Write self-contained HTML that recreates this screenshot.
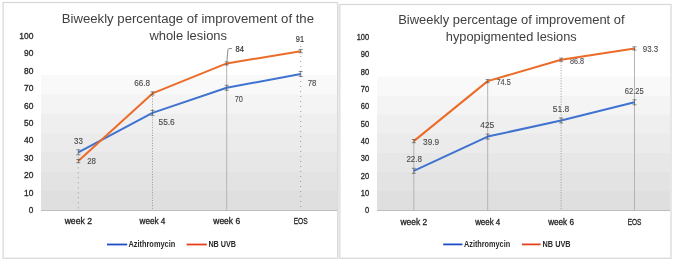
<!DOCTYPE html>
<html><head><meta charset="utf-8"><style>
html,body{margin:0;padding:0;background:#fff;}
svg{display:block;font-family:"Liberation Sans", sans-serif;will-change:transform;}
</style></head><body>
<svg width="676" height="263" viewBox="0 0 676 263">
<rect width="676" height="263" fill="#fff"/>
<rect x="3.1" y="2.5" width="334.5" height="255.8" fill="#fff" stroke="#d9d9d9" stroke-width="1.3"/>
<rect x="41" y="75.00" width="296" height="134.90" fill="#f9f9f9"/>
<rect x="41" y="94.27" width="296" height="115.63" fill="#f4f4f4"/>
<rect x="41" y="113.54" width="296" height="96.36" fill="#efefef"/>
<rect x="41" y="132.81" width="296" height="77.09" fill="#ebebeb"/>
<rect x="41" y="152.09" width="296" height="57.81" fill="#e7e7e7"/>
<rect x="41" y="171.36" width="296" height="38.54" fill="#e3e3e3"/>
<rect x="41" y="190.63" width="296" height="19.27" fill="#dfdfdf"/>
<line x1="41" y1="210.5" x2="337" y2="210.5" stroke="#bdbdbd" stroke-width="1"/>
<text x="28.8" y="213.0" font-family="Liberation Sans" font-size="8.8" fill="#262626" stroke="#262626" stroke-width="0.3" textLength="4.6" lengthAdjust="spacingAndGlyphs">0</text>
<text x="24.0" y="195.6" font-family="Liberation Sans" font-size="8.8" fill="#262626" stroke="#262626" stroke-width="0.3" textLength="9.4" lengthAdjust="spacingAndGlyphs">10</text>
<text x="24.0" y="178.2" font-family="Liberation Sans" font-size="8.8" fill="#262626" stroke="#262626" stroke-width="0.3" textLength="9.4" lengthAdjust="spacingAndGlyphs">20</text>
<text x="24.0" y="160.8" font-family="Liberation Sans" font-size="8.8" fill="#262626" stroke="#262626" stroke-width="0.3" textLength="9.4" lengthAdjust="spacingAndGlyphs">30</text>
<text x="24.0" y="143.4" font-family="Liberation Sans" font-size="8.8" fill="#262626" stroke="#262626" stroke-width="0.3" textLength="9.4" lengthAdjust="spacingAndGlyphs">40</text>
<text x="24.0" y="125.9" font-family="Liberation Sans" font-size="8.8" fill="#262626" stroke="#262626" stroke-width="0.3" textLength="9.4" lengthAdjust="spacingAndGlyphs">50</text>
<text x="24.0" y="108.5" font-family="Liberation Sans" font-size="8.8" fill="#262626" stroke="#262626" stroke-width="0.3" textLength="9.4" lengthAdjust="spacingAndGlyphs">60</text>
<text x="24.0" y="91.1" font-family="Liberation Sans" font-size="8.8" fill="#262626" stroke="#262626" stroke-width="0.3" textLength="9.4" lengthAdjust="spacingAndGlyphs">70</text>
<text x="24.0" y="73.7" font-family="Liberation Sans" font-size="8.8" fill="#262626" stroke="#262626" stroke-width="0.3" textLength="9.4" lengthAdjust="spacingAndGlyphs">80</text>
<text x="24.0" y="56.3" font-family="Liberation Sans" font-size="8.8" fill="#262626" stroke="#262626" stroke-width="0.3" textLength="9.4" lengthAdjust="spacingAndGlyphs">90</text>
<text x="19.2" y="38.9" font-family="Liberation Sans" font-size="8.8" fill="#262626" stroke="#262626" stroke-width="0.3" textLength="14.2" lengthAdjust="spacingAndGlyphs">100</text>
<line x1="78.3" y1="152.3" x2="78.3" y2="209.9" stroke="#999" stroke-width="1" stroke-dasharray="1 4"/>
<line x1="152.5" y1="93.4" x2="152.5" y2="209.9" stroke="#999" stroke-width="1" stroke-dasharray="1 1.6"/>
<line x1="226.7" y1="63.4" x2="226.7" y2="209.9" stroke="#b4b4b4" stroke-width="1"/>
<line x1="300.7" y1="46.0" x2="300.7" y2="209.9" stroke="#999" stroke-width="1" stroke-dasharray="1 4"/>
<text x="78.4" y="143.5" text-anchor="middle" font-size="9" fill="#4a4a4a" stroke="#4a4a4a" stroke-width="0.12" textLength="8.8" lengthAdjust="spacingAndGlyphs">33</text>
<text x="91.6" y="164.2" text-anchor="middle" font-size="9" fill="#4a4a4a" stroke="#4a4a4a" stroke-width="0.12" textLength="8.8" lengthAdjust="spacingAndGlyphs">28</text>
<text x="142.2" y="86.1" text-anchor="middle" font-size="9" fill="#4a4a4a" stroke="#4a4a4a" stroke-width="0.12" textLength="15.8" lengthAdjust="spacingAndGlyphs">66.8</text>
<text x="166.6" y="124.6" text-anchor="middle" font-size="9" fill="#4a4a4a" stroke="#4a4a4a" stroke-width="0.12" textLength="16.2" lengthAdjust="spacingAndGlyphs">55.6</text>
<text x="239.7" y="52.0" text-anchor="middle" font-size="9" fill="#333" stroke="#333" stroke-width="0.2" textLength="8.4" lengthAdjust="spacingAndGlyphs">84</text>
<text x="238.8" y="101.5" text-anchor="middle" font-size="9" fill="#4a4a4a" stroke="#4a4a4a" stroke-width="0.12" textLength="8.2" lengthAdjust="spacingAndGlyphs">70</text>
<text x="299.9" y="42.2" text-anchor="middle" font-size="9" fill="#3a3a3a" stroke="#3a3a3a" stroke-width="0.2" textLength="8.2" lengthAdjust="spacingAndGlyphs">91</text>
<text x="312.0" y="85.7" text-anchor="middle" font-size="9" fill="#4a4a4a" stroke="#4a4a4a" stroke-width="0.12" textLength="8.6" lengthAdjust="spacingAndGlyphs">78</text>
<polyline points="78.3,152.3 152.5,112.9 226.7,87.8 300.7,73.9" fill="none" stroke="#3f73cf" stroke-width="2.0" stroke-linejoin="round"/>
<polyline points="78.3,161.1 152.5,93.4 226.7,63.4 300.7,51.2" fill="none" stroke="#eb6b28" stroke-width="2.0" stroke-linejoin="round"/>
<path d="M76.3,149.8h4M78.3,149.8v5.0M76.3,154.8h4" stroke="#555" stroke-width="0.9" fill="none" opacity="0.75"/>
<path d="M150.5,110.4h4M152.5,110.4v5.0M150.5,115.4h4" stroke="#555" stroke-width="0.9" fill="none" opacity="0.75"/>
<path d="M224.7,85.3h4M226.7,85.3v5.0M224.7,90.3h4" stroke="#555" stroke-width="0.9" fill="none" opacity="0.75"/>
<path d="M298.7,71.4h4M300.7,71.4v5.0M298.7,76.4h4" stroke="#555" stroke-width="0.9" fill="none" opacity="0.75"/>
<path d="M76.3,159.5h4M78.3,159.5v3.2M76.3,162.7h4" stroke="#555" stroke-width="0.9" fill="none" opacity="0.75"/>
<path d="M150.5,91.8h4M152.5,91.8v3.2M150.5,95.0h4" stroke="#555" stroke-width="0.9" fill="none" opacity="0.75"/>
<path d="M224.7,61.8h4M226.7,61.8v3.2M224.7,65.0h4" stroke="#555" stroke-width="0.9" fill="none" opacity="0.75"/>
<path d="M298.7,49.6h4M300.7,49.6v3.2M298.7,52.8h4" stroke="#555" stroke-width="0.9" fill="none" opacity="0.75"/>
<text x="78.3" y="224.1" text-anchor="middle" font-size="9" fill="#222" stroke="#222" stroke-width="0.3" textLength="27.3" lengthAdjust="spacingAndGlyphs">week 2</text>
<text x="152.5" y="224.1" text-anchor="middle" font-size="9" fill="#222" stroke="#222" stroke-width="0.3" textLength="25.8" lengthAdjust="spacingAndGlyphs">week 4</text>
<text x="226.7" y="224.1" text-anchor="middle" font-size="9" fill="#222" stroke="#222" stroke-width="0.3" textLength="26.8" lengthAdjust="spacingAndGlyphs">week 6</text>
<text x="300.7" y="224.1" text-anchor="middle" font-size="9" fill="#222" stroke="#222" stroke-width="0.3" textLength="14.0" lengthAdjust="spacingAndGlyphs">EOS</text>
<text x="61.8" y="22.7" font-size="12.3" fill="#404040" textLength="252.2" lengthAdjust="spacingAndGlyphs">Biweekly percentage of improvement of the</text>
<text x="149.4" y="39.8" font-size="12.3" fill="#404040" textLength="77.6" lengthAdjust="spacingAndGlyphs">whole lesions</text>
<path d="M226.8,62 L228,49.2 Q228.3,48.6 229,48.6 L232,48.6" fill="none" stroke="#8c8c8c" stroke-width="1"/>
<line x1="107" y1="244.5" x2="127.2" y2="244.5" stroke="#1e4cc4" stroke-width="1.8"/>
<text x="128.4" y="247.0" font-size="8.5" font-weight="bold" fill="#2b2b2b" textLength="46.9" lengthAdjust="spacingAndGlyphs">Azithromycin</text>
<line x1="186.7" y1="244.5" x2="206.8" y2="244.5" stroke="#e4401e" stroke-width="1.8"/>
<text x="208.4" y="247.0" font-size="8.5" font-weight="bold" fill="#2b2b2b" textLength="27.7" lengthAdjust="spacingAndGlyphs">NB UVB</text>
<rect x="339.8" y="4.5" width="331.2" height="253.8" fill="#fff" stroke="#d9d9d9" stroke-width="1.3"/>
<rect x="377" y="76.50" width="293" height="133.90" fill="#f9f9f9"/>
<rect x="377" y="95.63" width="293" height="114.77" fill="#f4f4f4"/>
<rect x="377" y="114.76" width="293" height="95.64" fill="#efefef"/>
<rect x="377" y="133.89" width="293" height="76.51" fill="#ebebeb"/>
<rect x="377" y="153.01" width="293" height="57.39" fill="#e7e7e7"/>
<rect x="377" y="172.14" width="293" height="38.26" fill="#e3e3e3"/>
<rect x="377" y="191.27" width="293" height="19.13" fill="#dfdfdf"/>
<line x1="377" y1="210.5" x2="670" y2="210.5" stroke="#bdbdbd" stroke-width="1"/>
<text x="365.0" y="213.1" font-family="Liberation Sans" font-size="8.6" fill="#262626" stroke="#262626" stroke-width="0.3" textLength="4.2" lengthAdjust="spacingAndGlyphs">0</text>
<text x="360.8" y="195.8" font-family="Liberation Sans" font-size="8.6" fill="#262626" stroke="#262626" stroke-width="0.3" textLength="8.4" lengthAdjust="spacingAndGlyphs">10</text>
<text x="360.8" y="178.5" font-family="Liberation Sans" font-size="8.6" fill="#262626" stroke="#262626" stroke-width="0.3" textLength="8.4" lengthAdjust="spacingAndGlyphs">20</text>
<text x="360.8" y="161.2" font-family="Liberation Sans" font-size="8.6" fill="#262626" stroke="#262626" stroke-width="0.3" textLength="8.4" lengthAdjust="spacingAndGlyphs">30</text>
<text x="360.8" y="143.9" font-family="Liberation Sans" font-size="8.6" fill="#262626" stroke="#262626" stroke-width="0.3" textLength="8.4" lengthAdjust="spacingAndGlyphs">40</text>
<text x="360.8" y="126.5" font-family="Liberation Sans" font-size="8.6" fill="#262626" stroke="#262626" stroke-width="0.3" textLength="8.4" lengthAdjust="spacingAndGlyphs">50</text>
<text x="360.8" y="109.2" font-family="Liberation Sans" font-size="8.6" fill="#262626" stroke="#262626" stroke-width="0.3" textLength="8.4" lengthAdjust="spacingAndGlyphs">60</text>
<text x="360.8" y="91.9" font-family="Liberation Sans" font-size="8.6" fill="#262626" stroke="#262626" stroke-width="0.3" textLength="8.4" lengthAdjust="spacingAndGlyphs">70</text>
<text x="360.8" y="74.6" font-family="Liberation Sans" font-size="8.6" fill="#262626" stroke="#262626" stroke-width="0.3" textLength="8.4" lengthAdjust="spacingAndGlyphs">80</text>
<text x="360.8" y="57.3" font-family="Liberation Sans" font-size="8.6" fill="#262626" stroke="#262626" stroke-width="0.3" textLength="8.4" lengthAdjust="spacingAndGlyphs">90</text>
<text x="356.7" y="40.0" font-family="Liberation Sans" font-size="8.6" fill="#262626" stroke="#262626" stroke-width="0.3" textLength="12.5" lengthAdjust="spacingAndGlyphs">100</text>
<line x1="413.8" y1="141.1" x2="413.8" y2="210.4" stroke="#b4b4b4" stroke-width="1"/>
<line x1="487.7" y1="81.1" x2="487.7" y2="210.4" stroke="#b4b4b4" stroke-width="1"/>
<line x1="561.1" y1="59.7" x2="561.1" y2="210.4" stroke="#999" stroke-width="1" stroke-dasharray="1 1.6"/>
<line x1="634.5" y1="48.4" x2="634.5" y2="210.4" stroke="#b4b4b4" stroke-width="1"/>
<text x="414.2" y="162.0" text-anchor="middle" font-size="9" fill="#4a4a4a" stroke="#4a4a4a" stroke-width="0.12" textLength="15.6" lengthAdjust="spacingAndGlyphs">22.8</text>
<text x="431.1" y="145.3" text-anchor="middle" font-size="9" fill="#4a4a4a" stroke="#4a4a4a" stroke-width="0.12" textLength="16.0" lengthAdjust="spacingAndGlyphs">39.9</text>
<text x="487.3" y="127.8" text-anchor="middle" font-size="9" fill="#4a4a4a" stroke="#4a4a4a" stroke-width="0.12" textLength="14.0" lengthAdjust="spacingAndGlyphs">425</text>
<text x="503.6" y="84.9" text-anchor="middle" font-size="9" fill="#4a4a4a" stroke="#4a4a4a" stroke-width="0.12" textLength="14.2" lengthAdjust="spacingAndGlyphs">74.5</text>
<text x="561.0" y="111.9" text-anchor="middle" font-size="9" fill="#4a4a4a" stroke="#4a4a4a" stroke-width="0.12" textLength="16.5" lengthAdjust="spacingAndGlyphs">51.8</text>
<text x="577.0" y="63.7" text-anchor="middle" font-size="9" fill="#4a4a4a" stroke="#4a4a4a" stroke-width="0.12" textLength="14.1" lengthAdjust="spacingAndGlyphs">86.8</text>
<text x="634.2" y="93.5" text-anchor="middle" font-size="9" fill="#4a4a4a" stroke="#4a4a4a" stroke-width="0.12" textLength="19.1" lengthAdjust="spacingAndGlyphs">62.25</text>
<text x="650.5" y="51.9" text-anchor="middle" font-size="9" fill="#4a4a4a" stroke="#4a4a4a" stroke-width="0.12" textLength="15.3" lengthAdjust="spacingAndGlyphs">93.3</text>
<polyline points="413.8,170.8 487.7,136.6 561.1,120.5 634.5,102.3" fill="none" stroke="#3f73cf" stroke-width="2.0" stroke-linejoin="round"/>
<polyline points="413.8,141.1 487.7,81.1 561.1,59.7 634.5,48.4" fill="none" stroke="#eb6b28" stroke-width="2.0" stroke-linejoin="round"/>
<path d="M411.8,168.3h4M413.8,168.3v5.0M411.8,173.3h4" stroke="#555" stroke-width="0.9" fill="none" opacity="0.75"/>
<path d="M485.7,134.1h4M487.7,134.1v5.0M485.7,139.1h4" stroke="#555" stroke-width="0.9" fill="none" opacity="0.75"/>
<path d="M559.1,118.0h4M561.1,118.0v5.0M559.1,123.0h4" stroke="#555" stroke-width="0.9" fill="none" opacity="0.75"/>
<path d="M632.5,99.8h4M634.5,99.8v5.0M632.5,104.8h4" stroke="#555" stroke-width="0.9" fill="none" opacity="0.75"/>
<path d="M411.8,139.5h4M413.8,139.5v3.2M411.8,142.7h4" stroke="#555" stroke-width="0.9" fill="none" opacity="0.75"/>
<path d="M485.7,79.5h4M487.7,79.5v3.2M485.7,82.7h4" stroke="#555" stroke-width="0.9" fill="none" opacity="0.75"/>
<path d="M559.1,58.1h4M561.1,58.1v3.2M559.1,61.3h4" stroke="#555" stroke-width="0.9" fill="none" opacity="0.75"/>
<path d="M632.5,46.8h4M634.5,46.8v3.2M632.5,50.0h4" stroke="#555" stroke-width="0.9" fill="none" opacity="0.75"/>
<text x="413.8" y="224.6" text-anchor="middle" font-size="9" fill="#222" stroke="#222" stroke-width="0.3" textLength="26.7" lengthAdjust="spacingAndGlyphs">week 2</text>
<text x="487.7" y="224.6" text-anchor="middle" font-size="9" fill="#222" stroke="#222" stroke-width="0.3" textLength="25.1" lengthAdjust="spacingAndGlyphs">week 4</text>
<text x="561.1" y="224.6" text-anchor="middle" font-size="9" fill="#222" stroke="#222" stroke-width="0.3" textLength="25.7" lengthAdjust="spacingAndGlyphs">week 6</text>
<text x="634.5" y="224.6" text-anchor="middle" font-size="9" fill="#222" stroke="#222" stroke-width="0.3" textLength="13.7" lengthAdjust="spacingAndGlyphs">EOS</text>
<text x="398.2" y="23.6" font-size="12.3" fill="#404040" textLength="226.4" lengthAdjust="spacingAndGlyphs">Biweekly percentage of improvement of</text>
<text x="445.8" y="40.6" font-size="12.3" fill="#404040" textLength="130.9" lengthAdjust="spacingAndGlyphs">hypopigmented lesions</text>

<line x1="443.2" y1="244.4" x2="462.5" y2="244.4" stroke="#1e4cc4" stroke-width="1.8"/>
<text x="464" y="247.0" font-size="8.5" font-weight="bold" fill="#2b2b2b" textLength="46.1" lengthAdjust="spacingAndGlyphs">Azithromycin</text>
<line x1="521.9" y1="244.4" x2="540.6" y2="244.4" stroke="#e4401e" stroke-width="1.8"/>
<text x="542.6" y="247.0" font-size="8.5" font-weight="bold" fill="#2b2b2b" textLength="28.0" lengthAdjust="spacingAndGlyphs">NB UVB</text>
<rect x="337.9" y="4.5" width="1.6" height="253.8" fill="#e8e8e8"/>
</svg>
</body></html>
